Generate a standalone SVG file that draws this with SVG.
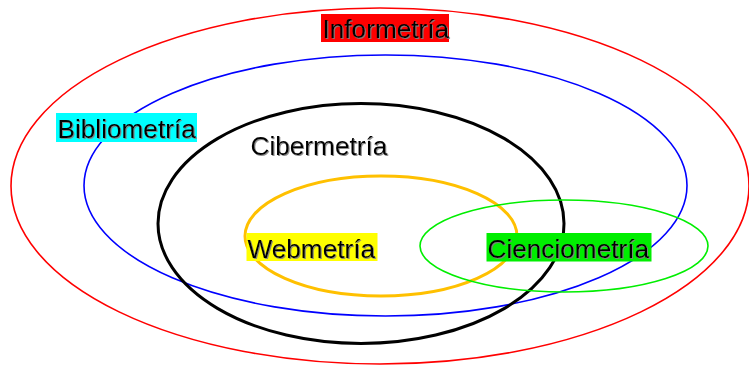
<svg xmlns="http://www.w3.org/2000/svg" width="749" height="367" viewBox="0 0 749 367">
  <defs>
    <filter id="shadow" x="-10%" y="-20%" width="120%" height="140%">
      <feDropShadow dx="1" dy="1" stdDeviation="0.4" flood-color="#808080" flood-opacity="0.9"/>
    </filter>
  </defs>
  <style>
    .ring { fill: none; }
    .lbl { font-family: "Liberation Sans", Arial, sans-serif; font-size: 26.2px; fill: #000; filter: url(#shadow); }
  </style>
  <rect width="749" height="367" fill="#fff"/>

  <g id="informetria">
    <ellipse class="ring" cx="380" cy="186" rx="369" ry="178" stroke="#ff0000" stroke-width="1.6"/>
    <rect x="321" y="14" width="128" height="28" fill="#ff0000"/>
    <text class="lbl" x="322.5" y="38">Informetría</text>
  </g>

  <g id="bibliometria">
    <ellipse class="ring" cx="385.5" cy="185.5" rx="301.5" ry="130.5" stroke="#0000ff" stroke-width="1.6"/>
    <rect x="56" y="113" width="141" height="29" fill="#00ffff"/>
    <text class="lbl" x="57.5" y="138">Bibliometría</text>
  </g>

  <g id="cibermetria">
    <ellipse class="ring" cx="361" cy="223.5" rx="203" ry="120" stroke="#000" stroke-width="3"/>
    <text class="lbl" x="250.5" y="154.5">Cibermetría</text>
  </g>

  <g id="webmetria">
    <ellipse class="ring" cx="381" cy="236" rx="136" ry="60" stroke="#ffc000" stroke-width="3"/>
    <rect x="246.5" y="233" width="131" height="28" fill="#ffff00"/>
    <text class="lbl" x="247.5" y="257.5">Webmetría</text>
  </g>

  <g id="cienciometria">
    <ellipse class="ring" cx="564" cy="246" rx="144" ry="46" stroke="#00ee00" stroke-width="1.6"/>
    <rect x="486.5" y="233" width="165" height="28.5" fill="#00ee00"/>
    <text class="lbl" x="487.5" y="257.5">Cienciometría</text>
  </g>

  <g id="connectors"/>
</svg>
